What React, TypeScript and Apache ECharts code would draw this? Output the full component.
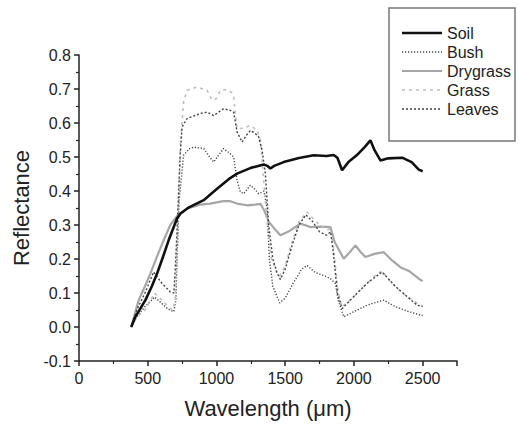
import React, { useEffect, useRef } from "react";
import * as echarts from "echarts";

const seriesNames = ["Soil", "Bush", "Drygrass", "Grass", "Leaves"];

const soil: [number, number][] = [
  [380, 0], [410, 0.03], [483, 0.079], [530, 0.12], [568, 0.157], [610, 0.205], [652, 0.255],
  [690, 0.295], [713, 0.319], [737, 0.333], [800, 0.352], [907, 0.373], [1000, 0.405], [1100, 0.438],
  [1150, 0.451], [1250, 0.468], [1344, 0.478], [1370, 0.474], [1392, 0.466], [1420, 0.474],
  [1489, 0.485], [1600, 0.497], [1708, 0.505], [1800, 0.503], [1853, 0.506], [1880, 0.498],
  [1914, 0.461], [1960, 0.485], [2020, 0.505], [2080, 0.53], [2120, 0.549], [2150, 0.52],
  [2193, 0.49], [2250, 0.496], [2351, 0.498], [2420, 0.485], [2472, 0.463], [2500, 0.458],
];

const bush: [number, number][] = [
  [380, 0], [420, 0.03], [480, 0.06], [550, 0.088], [600, 0.07], [650, 0.052], [690, 0.045],
  [705, 0.08], [713, 0.2], [730, 0.38], [761, 0.505], [800, 0.524], [834, 0.529], [907, 0.525],
  [950, 0.5], [980, 0.485], [1015, 0.505], [1052, 0.525], [1100, 0.51], [1125, 0.5],
  [1150, 0.431], [1174, 0.397], [1198, 0.392], [1247, 0.417], [1280, 0.405], [1307, 0.392],
  [1345, 0.4], [1368, 0.35], [1385, 0.2], [1410, 0.12], [1460, 0.071], [1500, 0.085],
  [1560, 0.13], [1620, 0.17], [1659, 0.181], [1720, 0.16], [1790, 0.15], [1829, 0.142],
  [1865, 0.128], [1885, 0.08], [1926, 0.03], [2000, 0.045], [2100, 0.065], [2217, 0.079],
  [2300, 0.06], [2400, 0.045], [2484, 0.035], [2500, 0.034],
];

const drygrass: [number, number][] = [
  [380, 0], [400, 0.03], [434, 0.079], [480, 0.12], [519, 0.157], [570, 0.21], [616, 0.255],
  [664, 0.3], [720, 0.33], [786, 0.348], [880, 0.36], [956, 0.363], [1050, 0.37], [1101, 0.37],
  [1160, 0.362], [1223, 0.358], [1280, 0.36], [1320, 0.362], [1345, 0.345], [1380, 0.31],
  [1430, 0.285], [1465, 0.27], [1520, 0.28], [1611, 0.304], [1683, 0.294], [1760, 0.295],
  [1829, 0.294], [1860, 0.25], [1926, 0.201], [1970, 0.22], [2011, 0.24], [2050, 0.22],
  [2084, 0.206], [2150, 0.215], [2217, 0.22], [2280, 0.195], [2338, 0.176], [2400, 0.165],
  [2472, 0.142], [2500, 0.135],
];

const grass: [number, number][] = [
  [380, 0], [420, 0.03], [480, 0.05], [550, 0.1], [600, 0.08], [650, 0.06], [680, 0.05],
  [700, 0.08], [720, 0.3], [740, 0.55], [761, 0.662], [786, 0.696], [859, 0.706], [932, 0.696],
  [968, 0.667], [1000, 0.672], [1028, 0.696], [1077, 0.698], [1110, 0.69], [1125, 0.676],
  [1140, 0.62], [1150, 0.583], [1200, 0.585], [1247, 0.593], [1296, 0.578], [1320, 0.55],
  [1340, 0.45], [1370, 0.3], [1400, 0.2], [1440, 0.16], [1460, 0.15], [1500, 0.18],
  [1550, 0.25], [1600, 0.31], [1659, 0.338], [1700, 0.32], [1750, 0.3], [1805, 0.285],
  [1829, 0.29], [1850, 0.24], [1880, 0.12], [1910, 0.06], [1950, 0.07], [2050, 0.11],
  [2150, 0.15], [2205, 0.165], [2250, 0.14], [2350, 0.1], [2460, 0.07], [2500, 0.062],
];

const leaves: [number, number][] = [
  [380, 0], [420, 0.05], [480, 0.1], [543, 0.162], [600, 0.13], [664, 0.103], [690, 0.1],
  [700, 0.17], [715, 0.3], [735, 0.5], [750, 0.588], [786, 0.613], [883, 0.628], [932, 0.632],
  [980, 0.622], [1052, 0.642], [1101, 0.637], [1125, 0.632], [1150, 0.574], [1186, 0.544],
  [1220, 0.565], [1247, 0.578], [1280, 0.57], [1307, 0.559], [1332, 0.52], [1356, 0.45],
  [1380, 0.3], [1410, 0.2], [1440, 0.16], [1465, 0.14], [1500, 0.17], [1550, 0.24],
  [1600, 0.3], [1650, 0.33], [1700, 0.31], [1750, 0.28], [1800, 0.27], [1830, 0.28],
  [1850, 0.22], [1880, 0.1], [1914, 0.054], [2000, 0.09], [2100, 0.13], [2205, 0.162],
  [2300, 0.12], [2400, 0.085], [2460, 0.064], [2500, 0.06],
];

const xTicks = { min: 0, max: 2750, interval: 500, lastLabel: 2500 };
const yTicks = { min: -0.1, max: 0.8, interval: 0.1 };

const FONT = "Liberation Sans, Arial, Helvetica, sans-serif";

export default function App() {
  const ref = useRef<HTMLDivElement>(null);
  useEffect(() => {
    document.body.style.margin = "0";
    if (!ref.current) return;
    const chart = echarts.init(ref.current, undefined, { renderer: "svg" });
    const axisCommon = {
      axisLine: { show: true, onZero: false, lineStyle: { color: "#222", width: 1.5 } },
      axisTick: { show: true, inside: false, length: 5, lineStyle: { color: "#222", width: 1.5 } },
      minorTick: { show: true, splitNumber: 2, length: 3, lineStyle: { color: "#222", width: 1.2 } },
      splitLine: { show: false },
      nameTextStyle: { fontFamily: FONT, fontSize: 22, color: "#222" },
    };
    const datas = [soil, bush, drygrass, grass, leaves];
    const styles: any[] = [
      { color: "#111", width: 2.6, type: "solid" },
      { color: "#444", width: 1.4, type: [1.2, 1.8] },
      { color: "#a6a6a6", width: 2.2, type: "solid" },
      { color: "#bdbdbd", width: 1.6, type: [3, 4] },
      { color: "#444", width: 1.4, type: [2, 2] },
    ];
    const legendY = [33, 52, 71, 90, 109];
    const legendGraphics: any[] = [
      {
        type: "rect",
        shape: { x: 389, y: 8, width: 126, height: 133 },
        style: { fill: "#fff", stroke: "#777", lineWidth: 1.5 },
        z: 0,
      },
    ];
    seriesNames.forEach((name, i) => {
      const st = styles[i];
      legendGraphics.push({
        type: "line",
        shape: { x1: 402, y1: legendY[i], x2: 442, y2: legendY[i] },
        style: {
          stroke: st.color,
          lineWidth: st.width,
          lineDash: st.type === "solid" ? null : st.type,
        },
        z: 10,
      });
      legendGraphics.push({
        type: "text",
        x: 447,
        y: legendY[i],
        style: {
          text: name,
          fontFamily: FONT,
          fontSize: 16,
          fill: "#222",
          verticalAlign: "middle",
          align: "left",
        },
        z: 10,
      });
    });
    chart.setOption({
      animation: false,
      textStyle: { fontFamily: FONT },
      grid: { left: 79, right: 62, top: 55, bottom: 63, containLabel: false },
      graphic: legendGraphics,
      xAxis: {
        type: "value",
        min: xTicks.min,
        max: xTicks.max,
        interval: xTicks.interval,
        name: "Wavelength (\u03bcm)",
        nameLocation: "middle",
        nameGap: 36,
        ...axisCommon,
        axisLabel: {
          fontFamily: FONT,
          fontSize: 16,
          color: "#222",
          margin: 9,
          showMaxLabel: true,
          formatter: (v: number) => (v > xTicks.lastLabel ? "" : String(v)),
        },
      },
      yAxis: {
        type: "value",
        min: yTicks.min,
        max: yTicks.max,
        interval: yTicks.interval,
        name: "Reflectance",
        nameLocation: "middle",
        nameGap: 44,
        ...axisCommon,
        axisLabel: {
          fontFamily: FONT,
          fontSize: 16,
          color: "#222",
          margin: 8,
          formatter: (v: number) => v.toFixed(1),
        },
      },
      series: seriesNames.map((name, i) => ({
        name,
        type: "line",
        data: datas[i],
        symbol: "none",
        showSymbol: false,
        lineStyle: styles[i],
        itemStyle: { color: styles[i].color },
        z: i === 0 ? 5 : 3,
      })),
    });
    return () => chart.dispose();
  }, []);
  return <div ref={ref} style={{ width: 519, height: 424 }} />;
}
